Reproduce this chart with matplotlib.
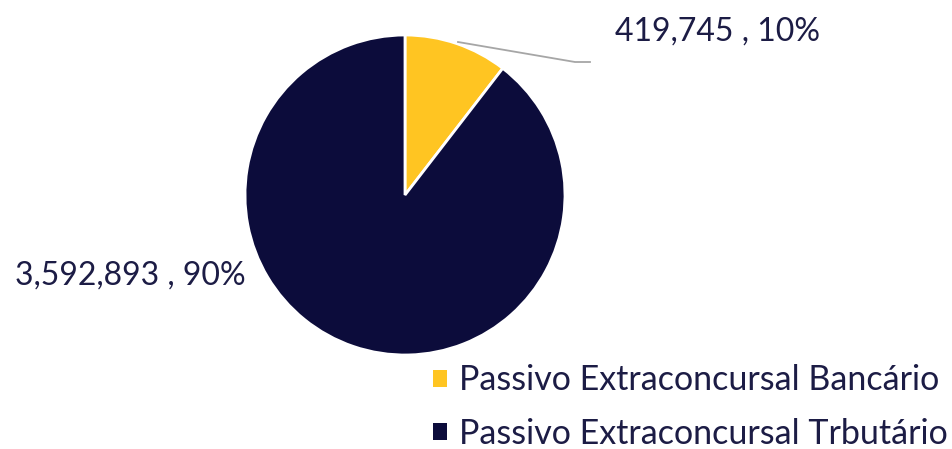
import matplotlib.pyplot as plt

# data
labels = ['Passivo Extraconcursal Bancário', 'Passivo Extraconcursal Trbutário']
values = [419745, 3592893]
colors = ['#FFC522', '#0C0C3B']
text_color = '#1C1C45'

W, H = 953, 449
plt.rcParams['font.family'] = ['Lato', 'DejaVu Sans']

fig = plt.figure(figsize=(W / 100, H / 100), dpi=100)
# pie axes: centre (405,195), radius 160 px
ax = fig.add_axes([245 / W, 1 - 355 / H, 320 / W, 320 / H])
wedges, _ = ax.pie(values, colors=colors, startangle=90, counterclock=False,
                   wedgeprops=dict(edgecolor='white', linewidth=2))
ax.set_aspect('equal')
ax.set_xlim(-1, 1)
ax.set_ylim(-1, 1)

total = sum(values)
lab = ['{:,} , {:.0f}%'.format(v, 100 * v / total) for v in values]

# small slice label with leader line
fig.text(615 / W, 1 - 32 / H, lab[0], fontsize=23, color=text_color,
         ha='left', va='center')
fig.add_artist(plt.Line2D([458 / W, 575 / W, 590 / W],
                          [1 - 42 / H, 1 - 62 / H, 1 - 62 / H],
                          color='#A6A6A6', lw=1.3, transform=fig.transFigure))
# big slice label
fig.text(15 / W, 1 - 276 / H, lab[1], fontsize=23, color=text_color,
         ha='left', va='center')

leg = fig.legend(wedges, labels, loc='center left',
                 bbox_to_anchor=(433 / W, 1 - 407 / H), frameon=False,
                 fontsize=24.5, handlelength=0.4, handleheight=0.4,
                 handletextpad=0.35, labelspacing=0.62, borderpad=0,
                 borderaxespad=0)
for t in leg.get_texts():
    t.set_color(text_color)
for h in leg.legend_handles:
    h.set_edgecolor('none')

fig.savefig('out.png', dpi=100)
